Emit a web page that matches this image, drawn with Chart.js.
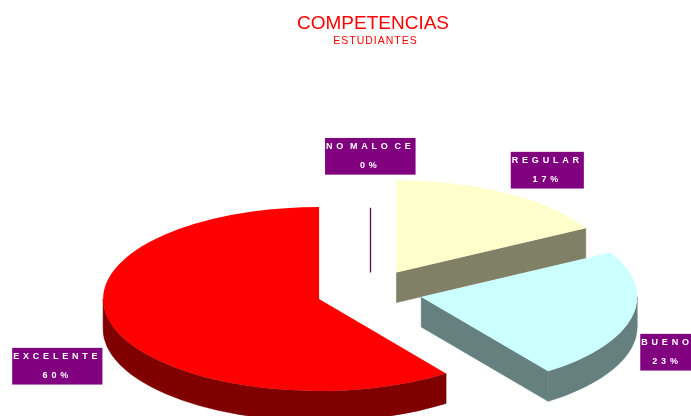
<!DOCTYPE html>
<html>
<head>
<meta charset="utf-8">
<script src="https://cdn.jsdelivr.net/npm/chart.js@4/dist/chart.umd.min.js"></script>
<style>
  html, body { margin: 0; padding: 0; background: #ffffff; }
  #wrap { position: relative; width: 691px; height: 416px; }
</style>
</head>
<body>
<div id="wrap"><canvas id="chart"></canvas></div>
<script>
// Survey result: share of students per competence level (percent)
const categories = ['NO MALO CE', 'REGULAR', 'BUENO', 'EXCELENTE'];
const percentages = [0, 17, 23, 60];
const chartTitle = 'COMPETENCIAS';
const chartSubtitle = 'ESTUDIANTES';

// Face colours and the darker shade used for each slice's side wall
const topColors = ['#800040', '#FFFFCC', '#CCFFFF', '#FF0000'];
const sideColors = ['#5e0a40', '#808066', '#668080', '#800000'];

const FONT = "'Liberation Sans', Arial, Helvetica, sans-serif";

// Tilted, exploded pie: each slice's ArcElement is drawn squashed vertically,
// sitting on a solid wall; slices are painted back to front.
const pie3d = {
  id: 'pie3d',
  beforeDatasetDraw(chart, args, opts) {
    const ctx = chart.ctx;
    const k = opts.tilt, d = opts.explode, T = opts.depth;
    const items = args.meta.data.map((el, i) => {
      const p = el.getProps(['x', 'y', 'startAngle', 'endAngle', 'outerRadius']);
      const mid = (p.startAngle + p.endAngle) / 2;
      return {
        el, i, p, mid,
        sx: opts.centerX + d * Math.cos(mid),
        sy: opts.centerY + k * d * Math.sin(mid)
      };
    });
    items.sort((a, b) => Math.sin(a.mid) - Math.sin(b.mid));

    items.forEach(it => {
      const { p, sx, sy } = it;
      const R = p.outerRadius, a0 = p.startAngle, a1 = p.endAngle;
      const side = sideColors[it.i];

      if (a1 - a0 <= 1e-9) {
        // an empty slice leaves only a thin radial stroke
        const L = R * opts.zeroLength;
        ctx.save();
        ctx.strokeStyle = side;
        ctx.lineWidth = 1.3;
        ctx.beginPath();
        ctx.moveTo(sx + 1, sy + 3);
        ctx.lineTo(sx + 1 + L * Math.cos(a0), sy + k * L * Math.sin(a0));
        ctx.stroke();
        ctx.restore();
        return;
      }

      ctx.save();
      ctx.fillStyle = side;
      ctx.strokeStyle = side;
      ctx.lineWidth = 0.6;
      const face = (a) => {
        const ex = sx + R * Math.cos(a), ey = sy + k * R * Math.sin(a);
        ctx.beginPath();
        ctx.moveTo(sx, sy);
        ctx.lineTo(ex, ey);
        ctx.lineTo(ex, ey + T);
        ctx.lineTo(sx, sy + T);
        ctx.closePath();
        ctx.fill();
        ctx.stroke();
      };
      if (Math.cos(a0) < -1e-6) face(a0);
      if (Math.cos(a1) > 1e-6) face(a1);
      const b0 = Math.max(a0, 0), b1 = Math.min(a1, Math.PI);
      if (b1 > b0) {
        ctx.beginPath();
        ctx.ellipse(sx, sy, R, R * k, 0, b0, b1);
        ctx.ellipse(sx, sy + T, R, R * k, 0, b1, b0, true);
        ctx.closePath();
        ctx.fill();
        ctx.stroke();
      }
      ctx.restore();

      ctx.save();
      ctx.translate(sx, sy);
      ctx.scale(1, k);
      ctx.translate(-p.x, -p.y);
      it.el.draw(ctx, chart.chartArea);
      ctx.restore();
    });
    return false;
  }
};

// Purple data-label boxes: category name over its percentage
const boxLabels = {
  id: 'boxLabels',
  afterDatasetsDraw(chart, args, opts) {
    const ctx = chart.ctx;
    ctx.save();
    ctx.font = `bold ${opts.size}px ${FONT}`;
    ctx.letterSpacing = opts.spacing + 'px';
    ctx.wordSpacing = opts.wordSpacing + 'px';
    ctx.textAlign = 'center';
    ctx.textBaseline = 'middle';
    categories.forEach((name, i) => {
      const [cx, cy] = opts.anchors[i];
      const lines = [name, percentages[i] + '%'];
      const w = Math.max(...lines.map(t => ctx.measureText(t).width)) + opts.pad * 2;
      ctx.fillStyle = opts.boxColor;
      ctx.fillRect(cx - w / 2, cy - opts.height / 2, w, opts.height);
      ctx.fillStyle = '#ffffff';
      ctx.fillText(lines[0], cx, cy - opts.gap / 2);
      ctx.fillText(lines[1], cx, cy + opts.gap / 2);
    });
    ctx.restore();
  }
};

// Spaced-out caption under the title
const caption = {
  id: 'caption',
  afterDraw(chart, args, opts) {
    const ctx = chart.ctx;
    ctx.save();
    ctx.font = `${opts.size}px ${FONT}`;
    ctx.letterSpacing = opts.spacing + 'px';
    ctx.fillStyle = opts.color;
    ctx.textAlign = 'center';
    ctx.textBaseline = 'middle';
    ctx.fillText(chartSubtitle, opts.x, opts.y);
    ctx.restore();
  }
};

new Chart(document.getElementById('chart'), {
  type: 'pie',
  data: {
    labels: categories,
    datasets: [{
      data: percentages,
      backgroundColor: topColors,
      borderWidth: 0,
      offset: 0,
      hoverOffset: 0,
      radius: 216
    }]
  },
  options: {
    responsive: true,
    maintainAspectRatio: false,
    animation: false,
    events: [],
    layout: { padding: { left: 55, right: 0, top: 0, bottom: 0 } },
    plugins: {
      legend: { display: false },
      tooltip: { enabled: false },
      title: {
        display: true,
        text: chartTitle,
        color: '#FF0000',
        font: { family: FONT, size: 19, weight: 'normal' },
        padding: { top: 12, bottom: 4 }
      },
      pie3d: { centerX: 369.5, centerY: 292, tilt: 0.426, explode: 53, depth: 30, zeroLength: 0.67 },
      boxLabels: {
        size: 9, spacing: 3.8, wordSpacing: -3.5, pad: 1, height: 36.7, gap: 18.6,
        boxColor: '#800080',
        anchors: [[370.3, 156.3], [547.3, 170.2], [667, 352.2], [57.3, 366.2]]
      },
      caption: { size: 10.5, spacing: 1, color: '#FF0000', x: 375.5, y: 41.2 }
    }
  },
  plugins: [pie3d, boxLabels, caption]
});
</script>
</body>
</html>
